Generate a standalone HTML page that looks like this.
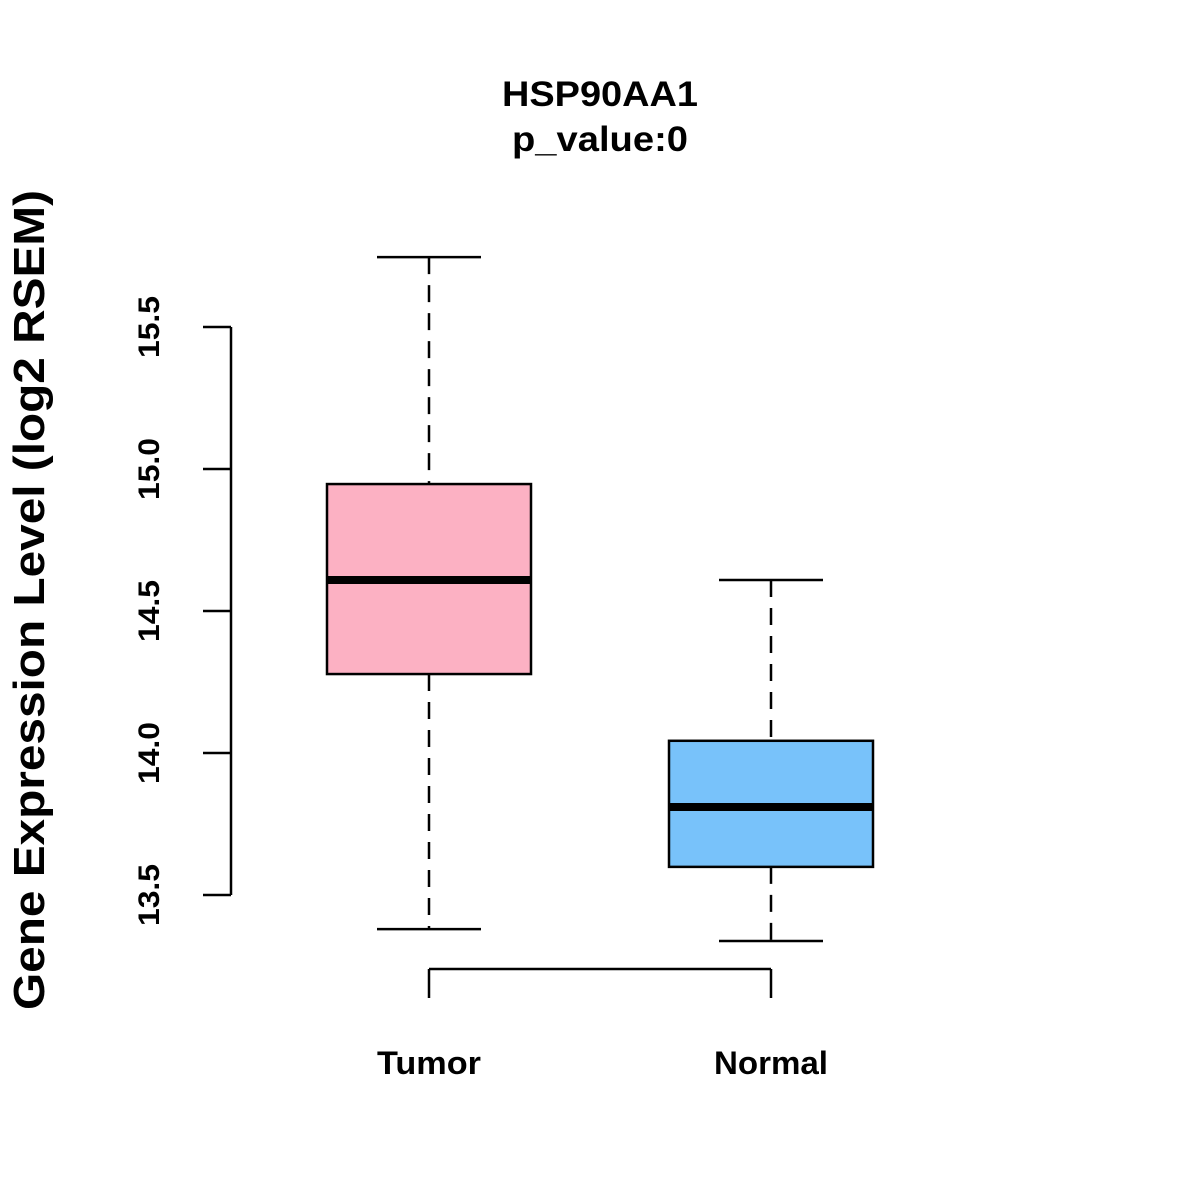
<!DOCTYPE html>
<html><head><meta charset="utf-8"><style>
html,body{margin:0;padding:0;background:#fff;}
svg{display:block;font-family:"Liberation Sans",Arial,sans-serif;}
</style></head><body>
<svg id="chart" width="1200" height="1200" viewBox="0 0 1200 1200">
<rect width="1200" height="1200" fill="#fff"/>
<text x="600" y="106" text-anchor="middle" font-size="35" font-weight="bold" textLength="196" lengthAdjust="spacingAndGlyphs">HSP90AA1</text>
<text x="600" y="151" text-anchor="middle" font-size="35" font-weight="bold" textLength="176" lengthAdjust="spacingAndGlyphs">p_value:0</text>
<text transform="translate(44,600) rotate(-90)" text-anchor="middle" font-size="44" font-weight="bold" textLength="820" lengthAdjust="spacingAndGlyphs">Gene Expression Level (log2 RSEM)</text>
<g id="yaxis"></g>
<g id="xaxis"></g>
<g id="boxes"></g>
</svg>
<script>
const categories = ["Tumor", "Normal"];
const colors = ["#fcb1c3", "#78c2fa"];
const whiskerHigh = [15.746, 14.609];
const q3Values = [14.947, 14.043];
const medians = [14.609, 13.81];
const q1Values = [14.278, 13.599];
const whiskerLow = [13.38, 13.338];
const yTicks = [13.5, 14.0, 14.5, 15.0, 15.5];
const yTickLabels = ["13.5", "14.0", "14.5", "15.0", "15.5"];
const xLabelWidths = [104, 114];

const NS = "http://www.w3.org/2000/svg";
function y(v){ return 895 - (v - 13.5) * 284; }
function x(i){ return 429 + i * 342; }
function mk(parent, tag, attrs){
  const e = document.createElementNS(NS, tag);
  for (const k in attrs) e.setAttribute(k, attrs[k]);
  parent.appendChild(e);
  return e;
}
const ya = document.getElementById("yaxis");
const yl = mk(ya, "line", {x1:231, x2:231, y1:y(yTicks[yTicks.length-1]), y2:y(yTicks[0]), stroke:"#000", "stroke-width":2.5});


yTicks.forEach((t, i) => {
  const tk = mk(ya, "line", {x1:203, x2:231, y1:y(t), y2:y(t), stroke:"#000", "stroke-width":2.5});
  
  
  const lb = mk(ya, "text", {transform:`translate(159,${y(t)}) rotate(-90)`, "text-anchor":"middle", "font-size":30, "font-weight":"bold", textLength:62, lengthAdjust:"spacingAndGlyphs"});
  lb.textContent = yTickLabels[i];
  
  
});
const xa = document.getElementById("xaxis");
const xl = mk(xa, "line", {x1:x(0), x2:x(categories.length-1), y1:969, y2:969, stroke:"#000", "stroke-width":2.5});


categories.forEach((c, i) => {
  const tk = mk(xa, "line", {x1:x(i), x2:x(i), y1:969, y2:998, stroke:"#000", "stroke-width":2.5});
  
  
  const lb = mk(xa, "text", {x:x(i), y:1074, "text-anchor":"middle", "font-size":32, "font-weight":"bold", textLength:xLabelWidths[i], lengthAdjust:"spacingAndGlyphs"});
  lb.textContent = c;
  
  
});
const bg = document.getElementById("boxes");
categories.forEach((c, i) => {
  const cx = x(i), hw = 102, cw = 52;
  const g = mk(bg, "g", {});
  
  
  mk(g, "line", {x1:cx, x2:cx, y1:y(whiskerHigh[i]), y2:y(q3Values[i]), stroke:"#000", "stroke-width":2.5, "stroke-dasharray":"17,11"});
  mk(g, "line", {x1:cx, x2:cx, y1:y(q1Values[i]), y2:y(whiskerLow[i]), stroke:"#000", "stroke-width":2.5, "stroke-dasharray":"17,11"});
  mk(g, "line", {x1:cx-cw, x2:cx+cw, y1:y(whiskerHigh[i]), y2:y(whiskerHigh[i]), stroke:"#000", "stroke-width":2.5});
  mk(g, "line", {x1:cx-cw, x2:cx+cw, y1:y(whiskerLow[i]), y2:y(whiskerLow[i]), stroke:"#000", "stroke-width":2.5});
  mk(g, "rect", {x:cx-hw, y:y(q3Values[i]), width:hw*2, height:y(q1Values[i])-y(q3Values[i]), fill:colors[i], stroke:"#000", "stroke-width":2.5});
  mk(g, "line", {x1:cx-hw, x2:cx+hw, y1:y(medians[i]), y2:y(medians[i]), stroke:"#000", "stroke-width":8});
});
</script>
</body></html>
